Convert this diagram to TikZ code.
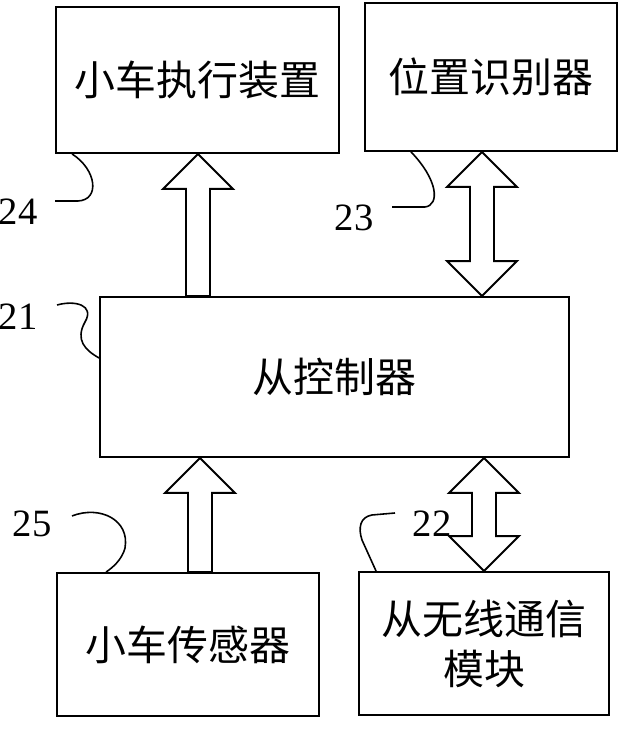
\documentclass[tikz,border=0pt]{standalone}
\usepackage{fontspec}
\setmainfont{Liberation Serif}
\newfontfamily\cjk{Noto Sans CJK SC}
\usetikzlibrary{calc}

\begin{document}
\begin{tikzpicture}[
    x=0.02cm, y=0.02cm,
    box/.style={rectangle, draw, line width=1.1pt, inner sep=0pt, align=center, font=\cjk\fontsize{23.3}{28.5}\selectfont},
    num/.style={inner sep=0pt, font=\fontsize{22}{26}\selectfont},
    blk/.style={draw, fill=white, line width=1.1pt, line join=miter},
    lead/.style={draw, line width=0.9pt},
]
    \useasboundingbox (0,0) rectangle (625,734);

    \node[box, minimum width=5.66cm, minimum height=2.92cm] (exec) at (197.5,654) {小车执行装置};
    \node[box, minimum width=5.04cm, minimum height=2.96cm] (loc) at (491,657) {位置识别器};
    \node[box, minimum width=9.38cm, minimum height=3.2cm] (ctl) at (334.5,357) {从控制器};
    \node[box, minimum width=5.24cm, minimum height=2.86cm] (sens) at (188,89.5) {小车传感器};
    \node[box, minimum width=5.0cm, minimum height=2.86cm] (wl) at (484,90.5) {从无线通信\\模块};

    \coordinate (u1) at (198,0);
    \coordinate (d1) at (482,0);
    \coordinate (u2) at (200,0);
    \coordinate (d2) at (484,0);

    \draw[blk] (exec.south -| u1) -- ++(35,-35) -- ++(-23,0) coordinate (p) -- (p |- ctl.north)
        -- ++(-24,0) coordinate (q) -- (q |- p) -- ++(-23,0) -- cycle;
    \draw[blk] (loc.south -| d1) -- ++(35,-35) -- ++(-23,0) coordinate (p) -- ($(p |- ctl.north)+(0,35)$)
        -- ++(23,0) -- (ctl.north -| d1) -- ++(-35,35) -- ++(23,0) coordinate (q) -- (q |- p) -- ++(-23,0) -- cycle;
    \draw[blk] (ctl.south -| u2) -- ++(35,-35) -- ++(-23,0) coordinate (p) -- (p |- sens.north)
        -- ++(-24,0) coordinate (q) -- (q |- p) -- ++(-23,0) -- cycle;
    \draw[blk] (ctl.south -| d2) -- ++(35,-35) -- ++(-23,0) coordinate (p) -- ($(p |- wl.north)+(0,35)$)
        -- ++(23,0) -- (wl.north -| d2) -- ++(-35,35) -- ++(23,0) coordinate (q) -- (q |- p) -- ++(-23,0) -- cycle;

    \node[num] (l24) at (18,522) {24};
    \node[num] (l23) at (354,516) {23};
    \node[num] (l21) at (18,417) {21};
    \node[num] (l25) at (32,210) {25};
    \node[num] (l22) at (432,210) {22};

    \draw[lead] ($(l24)+(37,11)$) -- ++(23,0) .. controls (100,534) and (97,564) .. ($(exec.south west)+(17,0)$);
    \draw[lead] ($(l23)+(38,11)$) -- ++(33,0) .. controls (440,529) and (438,554) .. ($(loc.south west)+(47,0)$);
    \draw[lead] ($(l21)+(39,12)$) .. controls (75,434) and (95,429) .. (85,412) .. controls (75,394) and (85,384) .. ($(ctl.west)+(0,19)$);
    \draw[lead] ($(l25)+(40,8)$) .. controls (100,229) and (130,214) .. (125,186) .. controls (122,174) and (112,166) .. ($(sens.north west)+(50,0)$);
    \draw[lead] ($(l22)+(-37,11)$) -- ++(-23,-2) .. controls (360,217) and (358,206) .. (362,194) -- ($(wl.north west)+(18,0)$);
\end{tikzpicture}
\end{document}
